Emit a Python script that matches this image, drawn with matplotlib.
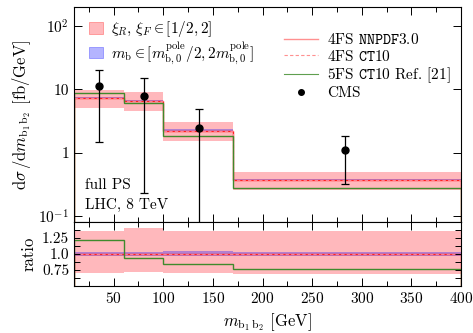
import numpy as np
import matplotlib
matplotlib.use("Agg")
import matplotlib.pyplot as plt
from matplotlib.patches import Patch
from matplotlib.lines import Line2D
from matplotlib.ticker import MultipleLocator, FixedLocator, NullLocator, FixedFormatter

plt.rcParams["font.family"] = "serif"
plt.rcParams["font.serif"] = ["cmr10"]
plt.rcParams["mathtext.fontset"] = "cm"
plt.rcParams["axes.formatter.use_mathtext"] = True
plt.rcParams["axes.unicode_minus"] = False

# bin edges in m_b1b2 [GeV]
edges = np.array([10, 60, 100, 170, 400])

# 4FS NNPDF3.0 central prediction and scale band [fb/GeV]
nnpdf = np.array([7.3, 6.5, 2.23, 0.372])
scale_lo = np.array([5.13, 4.6, 1.55, 0.255])
scale_hi = np.array([9.95, 9.15, 3.03, 0.505])
# m_b variation relative to central
mb_lo = np.array([0.97, 0.97, 0.97, 0.97])
mb_hi = np.array([1.035, 1.035, 1.045, 1.035])
# 4FS CT10 and 5FS CT10
ct10 = np.array([7.25, 6.45, 2.21, 0.369])
fs5 = np.array([8.9, 6.1, 1.86, 0.281])

# CMS data
cms_x = np.array([35, 81, 136, 283])
cms_y = np.array([11.2, 7.8, 2.5, 1.1])
cms_up = np.array([20.5, 15.3, 4.9, 1.86])
cms_dn = np.array([1.5, 0.23, 0.01, 0.32])

red_band = "#ffb8bc"
blue_band = (0.0, 0.0, 1.0, 0.3)
red_line = "#ff2020"
green_line = "#3f8a2c"

fig = plt.figure(figsize=(4.73, 3.33), dpi=100)
ax = fig.add_axes([0.1564, 0.3333, 0.8182, 0.6457])
rax = fig.add_axes([0.1564, 0.142, 0.8182, 0.1913], sharex=ax)

def draw(a, c, lo, hi, blo, bhi, ct, f5, base):
    a.stairs(hi, edges, baseline=lo, fill=True, color=red_band, lw=0)
    a.stairs(c * bhi, edges, baseline=c * blo, fill=True, color=blue_band, lw=0)
    a.stairs(c, edges, baseline=base, color=red_line, lw=1.0)
    a.stairs(ct, edges, baseline=None, color="#ff7f8f", lw=0.8, ls=(0, (3, 2)))
    a.stairs(f5, edges, baseline=base, color=green_line, lw=1.0)

draw(ax, nnpdf, scale_lo, scale_hi, mb_lo, mb_hi, ct10, fs5, 1e-6)
ax.errorbar(cms_x, cms_y, yerr=[cms_y - cms_dn, cms_up - cms_y], fmt="o",
            color="black", ms=5, elinewidth=0.9, capsize=3, capthick=0.9, zorder=5)

one = np.ones_like(nnpdf)
draw(rax, one, scale_lo / nnpdf, scale_hi / nnpdf, mb_lo, mb_hi, ct10 / nnpdf, fs5 / nnpdf, 0)

ax.set_yscale("log")
ax.set_xlim(10, 400)
ax.set_ylim(0.0805, 200)
ax.yaxis.set_major_locator(FixedLocator([0.1, 1, 10, 100]))
ax.yaxis.set_major_formatter(FixedFormatter([r"$10^{-1}$", "1", "10", r"$10^{2}$"]))
ax.yaxis.set_minor_locator(NullLocator())
ax.set_ylabel(r"$\mathrm{d}\sigma\,/\mathrm{d}m_{\mathrm{b_1\,b_2}}$ [fb/GeV]", fontsize=12)
plt.setp(ax.get_xticklabels(), visible=False)

rax.set_ylim(0.5, 1.5)
rax.yaxis.set_major_locator(FixedLocator([0.75, 1.0, 1.25]))
rax.yaxis.set_major_formatter(FixedFormatter(["0.75", "1.0", "1.25"]))
rax.yaxis.set_minor_locator(FixedLocator([0.625, 0.875, 1.125, 1.375]))
rax.set_ylabel("ratio", fontsize=12)
rax.set_xlabel(r"$m_{\mathrm{b_1\,b_2}}$ [GeV]", fontsize=12)
rax.xaxis.set_major_locator(MultipleLocator(50))
rax.xaxis.set_minor_locator(MultipleLocator(25))

for a in (ax, rax):
    a.tick_params(which="both", direction="in", top=True, right=True, labelsize=11)
    a.tick_params(which="major", length=6, width=0.7)
    a.tick_params(which="minor", length=3.5, width=0.7)
    for s in a.spines.values():
        s.set_linewidth(0.8)
rax.tick_params(axis="y", which="both", length=4)

ax.text(21, 0.27, "full PS", fontsize=11)
ax.text(21, 0.13, "LHC, 8 TeV", fontsize=11)

band_handles = [Patch(facecolor=red_band, edgecolor="#ff8080", lw=0.5),
                Patch(facecolor="#b4b4ff", edgecolor="#8080ff", lw=0.5)]
band_labels = [r"$\xi_R,\,\xi_F\in[1/2,2]$",
               r"$m_{\mathrm{b}}\in[m^{\mathrm{pole}}_{\mathrm{b},0}/2,2m^{\mathrm{pole}}_{\mathrm{b},0}]$"]
leg1 = ax.legend(band_handles, band_labels, loc="upper left", bbox_to_anchor=(0.015, 0.985),
                 frameon=False, fontsize=11, handlelength=0.95, handleheight=0.8,
                 handletextpad=0.5, labelspacing=0.05, borderaxespad=0.2)
ax.add_artist(leg1)

line_handles = [Line2D([], [], color="#ff9090", lw=1.0),
                Line2D([], [], color="#ff9090", lw=0.8, ls=(0, (3, 2))),
                Line2D([], [], color="#5f9f4f", lw=0.8),
                Line2D([], [], color="black", marker="o", ls="none", ms=4)]
line_labels = [r"4FS $\mathtt{NNPDF3.0}$", r"4FS $\mathtt{CT10}$",
               r"5FS $\mathtt{CT10}$ Ref. [21]", "CMS"]
ax.legend(line_handles, line_labels, loc="upper left", bbox_to_anchor=(0.52, 0.925),
          frameon=False, fontsize=11, handlelength=2.2, handletextpad=0.6,
          labelspacing=0.1, borderaxespad=0.2)

fig.savefig("out.png", dpi=100)
